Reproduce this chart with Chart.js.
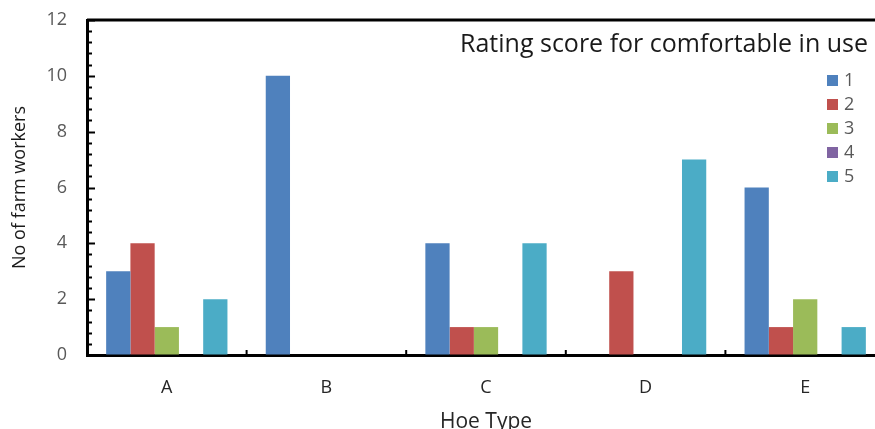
<!DOCTYPE html>
<html lang="en">

<head>
    <meta charset="UTF-8">
    <title>Hoe Type Rating</title>
    <script src="https://cdn.jsdelivr.net/npm/chart.js"></script>
    <style>
        body {
            margin: 0;
            overflow: hidden;
            background: #fff;
        }

        #wrap {
            width: 875px;
            height: 429px;
            overflow: hidden;
        }
    </style>
</head>

<body>
    <div id="wrap">
        <canvas id="myChart" width="890" height="429"></canvas>
    </div>

    <script>
        // Chart data
        const hoeTypes = ['A', 'B', 'C', 'D', 'E'];
        const ratingLabels = ['1', '2', '3', '4', '5'];
        const rating1 = [3, 10, 4, 0, 6];
        const rating2 = [4, 0, 1, 3, 1];
        const rating3 = [1, 0, 1, 0, 2];
        const rating4 = [0, 0, 0, 0, 0];
        const rating5 = [2, 0, 4, 7, 1];
        const yTicks = [0, 2, 4, 6, 8, 10, 12];

        const colors = ['#4F81BD', '#C0504D', '#9BBB59', '#8064A2', '#4BACC6'];
        const series = [rating1, rating2, rating3, rating4, rating5];
        const fontFamily = '"Open Sans", sans-serif';

        // inside tick marks, plot border and legend
        const decorations = {
            id: 'decorations',
            afterDraw(chart) {
                const ctx = chart.ctx;
                const area = chart.chartArea;
                const y = chart.scales.y;
                const x = chart.scales.x;
                ctx.save();
                ctx.strokeStyle = '#000';

                // top + right border
                ctx.lineWidth = 3;
                ctx.beginPath();
                ctx.moveTo(area.left, area.top);
                ctx.lineTo(area.right, area.top);
                ctx.lineTo(area.right, area.bottom);
                ctx.stroke();

                // y ticks (minor every 0.4, major every 2)
                ctx.lineWidth = 2;
                for (let i = 0; i <= 30; i++) {
                    const v = i * 0.4;
                    const py = Math.round(y.getPixelForValue(v)) + 0.5;
                    const major = i % 5 === 0;
                    ctx.beginPath();
                    ctx.moveTo(area.left, py);
                    ctx.lineTo(area.left + (major ? 8 : 5), py);
                    ctx.stroke();
                }

                // x ticks at category boundaries
                for (let i = 1; i < hoeTypes.length; i++) {
                    const px = (x.getPixelForValue(i - 1) + x.getPixelForValue(i)) / 2;
                    ctx.beginPath();
                    ctx.moveTo(px, area.bottom);
                    ctx.lineTo(px, area.bottom - 5);
                    ctx.stroke();
                }

                // legend
                ctx.fillStyle = '#1a1a1a';
                ctx.font = '25px ' + fontFamily;
                ctx.textAlign = 'right';
                ctx.textBaseline = 'middle';
                ctx.fillText('Rating score for comfortable in use', 868, 45);

                ctx.font = '18px ' + fontFamily;
                ctx.textAlign = 'left';
                chart.data.datasets.forEach((ds, i) => {
                    const cy = 80 + i * 24;
                    ctx.fillStyle = ds.backgroundColor;
                    ctx.fillRect(827, cy - 5, 11, 11);
                    ctx.fillStyle = '#595959';
                    ctx.fillText(ds.label, 844, cy + 1);
                });
                ctx.restore();
            }
        };

        const ctx = document.getElementById('myChart').getContext('2d');
        const myChart = new Chart(ctx, {
            type: 'bar',
            data: {
                labels: hoeTypes,
                datasets: ratingLabels.map((label, i) => ({
                    label: label,
                    data: series[i],
                    backgroundColor: colors[i],
                    borderWidth: 0,
                    categoryPercentage: 0.76,
                    barPercentage: 1.0
                }))
            },
            options: {
                responsive: false,
                animation: false,
                layout: {
                    padding: { left: 0, right: 5, top: 20, bottom: 0 }
                },
                plugins: {
                    legend: { display: false },
                    tooltip: { enabled: false }
                },
                scales: {
                    x: {
                        afterFit: s => {
                            s.height = 74;
                            s.paddingLeft = 0;
                            s.paddingRight = 0;
                        },
                        grid: { display: true, drawOnChartArea: false, drawTicks: false },
                        border: { display: true, color: '#000', width: 3 },
                        ticks: {
                            padding: 22,
                            color: '#262626',
                            font: { family: fontFamily, size: 18 }
                        },
                        title: {
                            display: true,
                            text: 'Hoe Type',
                            color: '#262626',
                            padding: { top: 0, bottom: -6 },
                            font: { family: fontFamily, size: 21 }
                        }
                    },
                    y: {
                        min: 0,
                        max: 12,
                        afterFit: s => {
                            s.width = 87;
                            s.paddingTop = 0;
                            s.paddingBottom = 0;
                        },
                        afterBuildTicks: s => { s.ticks = yTicks.map(v => ({ value: v })); },
                        grid: { display: true, drawOnChartArea: false, drawTicks: false },
                        border: { display: true, color: '#000', width: 3 },
                        ticks: {
                            padding: 20,
                            color: '#595959',
                            font: { family: fontFamily, size: 18 }
                        },
                        title: {
                            display: true,
                            text: 'No of farm workers',
                            color: '#1a1a1a',
                            padding: { top: 9, bottom: 0 },
                            font: { family: fontFamily, size: 18 }
                        }
                    }
                }
            },
            plugins: [decorations]
        });
    </script>
</body>

</html>
